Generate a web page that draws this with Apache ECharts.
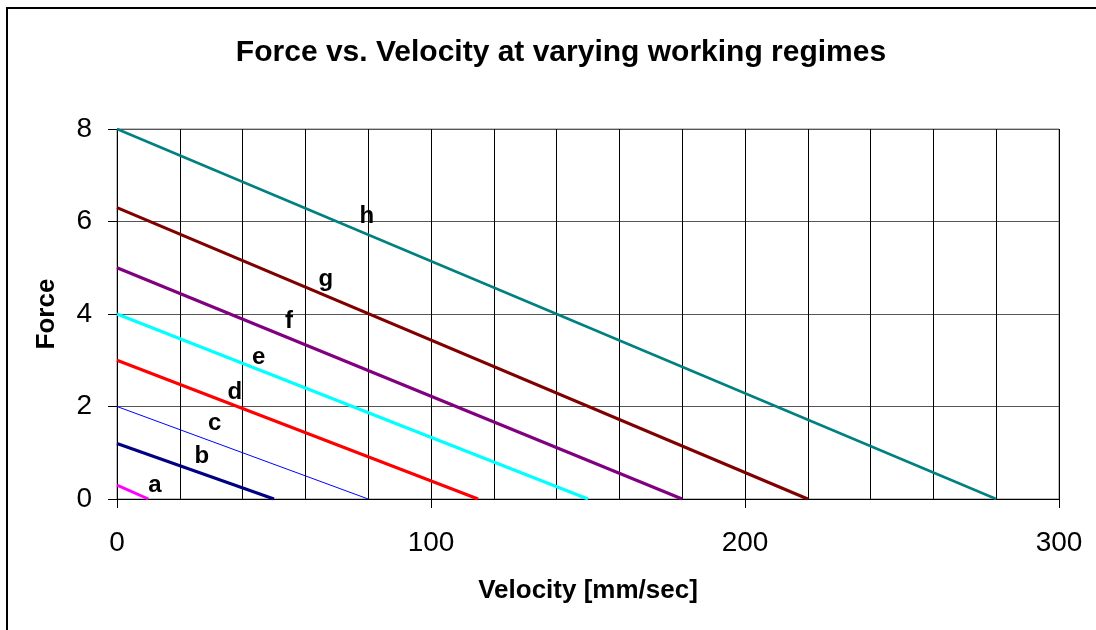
<!DOCTYPE html>
<html>
<head>
<meta charset="utf-8">
<script src="https://cdn.jsdelivr.net/npm/echarts@6/dist/echarts.min.js"></script>
<style>
  html, body { margin: 0; padding: 0; background: #fff; }
  #chart { width: 1096px; height: 630px; }
</style>
</head>
<body>
<div id="chart"></div>
<script>
// regime lines: force at zero velocity, velocity at zero force
var regimes = ['a', 'b', 'c', 'd', 'e', 'f', 'g', 'h'];
var forceAtZero = [0.3, 1.2, 2, 3, 4, 5, 6.3, 8];
var velocityAtZero = [10, 50, 80, 115, 150, 180, 220, 280];
var lineColors = ['#ff00ff', '#000080', '#0000ff', '#ff0000', '#00ffff', '#800080', '#800000', '#008080'];
var lineWidths = [3, 3, 1, 3, 3, 3, 3, 2.5];
// label anchor points [velocity, force]
var labelPos = [[12.2, 0.28], [27.2, 0.91], [31.3, 1.62], [37.7, 2.29], [45.3, 3.05], [54.9, 3.83], [66.7, 4.73], [79.7, 6.1]];

var chart = echarts.init(document.getElementById('chart'));
var font = 'Liberation Sans, Arial, sans-serif';

var series = regimes.map(function (name, i) {
    return {
        name: name,
        type: 'line',
        data: [[0, forceAtZero[i]], [velocityAtZero[i], 0]],
        symbol: 'none',
        lineStyle: { color: lineColors[i], width: lineWidths[i] },
        z: 3
    };
});

series.push({
    type: 'scatter',
    symbolSize: 1,
    itemStyle: { opacity: 0 },
    data: labelPos.map(function (p, i) { return { value: p, name: regimes[i] }; }),
    label: {
        show: true,
        position: [0, 0],
        align: 'center',
        verticalAlign: 'middle',
        formatter: '{b}',
        fontFamily: font,
        fontWeight: 'bold',
        fontSize: 24,
        color: '#000',
        opacity: 1
    },
    z: 5
});

var option = {
    animation: false,
    backgroundColor: '#fff',
    title: {
        text: 'Force vs. Velocity at varying working regimes',
        left: 556,
        textAlign: 'center',
        top: 33,
        textStyle: { fontFamily: font, fontWeight: 'bold', fontSize: 30, color: '#000' }
    },
    graphic: [{
        type: 'rect',
        shape: { x: 7, y: 8, width: 1200, height: 700 },
        style: { fill: 'none', stroke: '#000', lineWidth: 2 },
        silent: true
    }],
    grid: { left: 117, top: 129, right: 37, bottom: 131, show: true, borderColor: '#808080', borderWidth: 1 },
    xAxis: {
        type: 'value',
        min: 0,
        max: 300,
        interval: 100,
        name: 'Velocity [mm/sec]',
        nameLocation: 'middle',
        nameGap: 79,
        nameTextStyle: { fontFamily: font, fontWeight: 'bold', fontSize: 26, color: '#000' },
        axisLine: { show: true, lineStyle: { color: '#000', width: 1 } },
        axisTick: { show: true, inside: false, length: 9, lineStyle: { color: '#000' } },
        axisLabel: { fontFamily: font, fontSize: 28, color: '#000', margin: 30 },
        splitLine: { show: true, lineStyle: { color: '#000', width: 1 } },
        minorTick: { show: false, splitNumber: 5 },
        minorSplitLine: { show: true, lineStyle: { color: '#000', width: 1 } }
    },
    yAxis: {
        type: 'value',
        min: 0,
        max: 8,
        interval: 2,
        name: 'Force',
        nameLocation: 'middle',
        nameGap: 57,
        nameTextStyle: { fontFamily: font, fontWeight: 'bold', fontSize: 26, color: '#000' },
        axisLine: { show: true, lineStyle: { color: '#000', width: 1 } },
        axisTick: { show: true, inside: false, length: 9, lineStyle: { color: '#000' } },
        axisLabel: { fontFamily: font, fontSize: 28, color: '#000', margin: 25 },
        splitLine: { show: true, lineStyle: { color: '#555', width: 1 } }
    },
    series: series
};

chart.setOption(option);
</script>
</body>
</html>
